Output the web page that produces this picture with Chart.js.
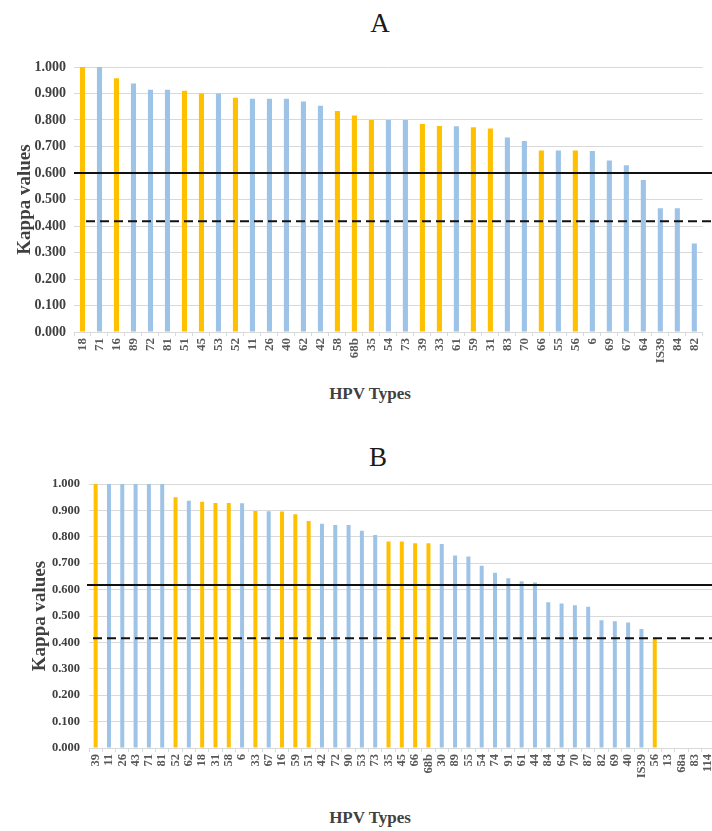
<!DOCTYPE html>
<html>
<head>
<meta charset="utf-8">
<script src="https://cdn.jsdelivr.net/npm/chart.js@4/dist/chart.umd.min.js"></script>
<style>
  html, body { margin: 0; padding: 0; background: #ffffff; }
  body { width: 712px; height: 831px; position: relative; overflow: hidden; font-family: 'Liberation Serif', 'Times New Roman', serif; }
  .wrap { position: absolute; left: 0; width: 712px; overflow: hidden; }
  .ttl { position: absolute; transform: translate(-50%, -50%); white-space: nowrap; color: #1a1a1a; font-size: 27px; }
  .xt { position: absolute; transform: translate(-50%, -50%); white-space: nowrap; color: #404040; font-size: 17px; font-weight: bold; }
</style>
</head>
<body>
<div class="ttl" style="left:380px; top:23px;">A</div>
<div class="ttl" style="left:378px; top:457px;">B</div>
<div class="xt" style="left:370px; top:394px;">HPV Types</div>
<div class="xt" style="left:370px; top:818px;">HPV Types</div>
<div class="wrap" style="top:0; height:415px;"><canvas id="chartA" width="712" height="415"></canvas></div>
<div class="wrap" style="top:415px; height:416px;"><canvas id="chartB" width="725" height="416"></canvas></div>
<script>
// ---- data ----
const typesA = ['18','71','16','89','72','81','51','45','53','52','11','26','40','62','42','58','68b','35','54','73','39','33','61','59','31','83','70','66','55','56','6','69','67','64','IS39','84','82'];
const kappaA = [1.000,1.000,0.958,0.938,0.914,0.914,0.910,0.900,0.900,0.884,0.880,0.880,0.880,0.870,0.854,0.834,0.817,0.800,0.800,0.800,0.785,0.777,0.776,0.773,0.768,0.734,0.721,0.685,0.685,0.685,0.683,0.647,0.629,0.574,0.467,0.467,0.334];

const typesB = ['39','11','26','43','71','81','52','62','18','31','58','6','33','67','16','59','51','42','72','90','53','73','35','45','66','68b','30','89','55','54','74','91','61','44','84','64','70','87','82','69','40','IS39','56','13','68a','83','114'];
const kappaB = [1,1,1,1,1,1,0.950,0.937,0.933,0.928,0.928,0.927,0.898,0.897,0.896,0.885,0.860,0.849,0.845,0.845,0.823,0.807,0.782,0.782,0.776,0.776,0.773,0.729,0.725,0.690,0.664,0.643,0.632,0.627,0.552,0.547,0.541,0.535,0.484,0.480,0.475,0.451,0.416,0,0,0,0];

// types drawn in orange
const highRiskTypes = ['16','18','31','33','35','39','45','51','52','56','58','59','66','68b'];

// threshold lines [solid, dashed]
const thresholdsA = [0.600, 0.418];
const thresholdsB = [0.617, 0.416];

const yTicks = [0,0.1,0.2,0.3,0.4,0.5,0.6,0.7,0.8,0.9,1.0];

// ---- styling ----
const ORANGE = '#FFC000';
const BLUE = '#9DC3E6';
const SERIF = "'Liberation Serif', 'Times New Roman', serif";

const thresholdPlugin = {
  id: 'thresholds',
  afterDatasetsDraw(chart, args, opts) {
    const {ctx, chartArea, scales} = chart;
    const y = scales.y;
    ctx.save();
    ctx.strokeStyle = '#111';
    ctx.lineWidth = 2;
    let py = y.getPixelForValue(opts.values[0]);
    ctx.setLineDash([]);
    ctx.beginPath();
    ctx.moveTo(chartArea.left + opts.solidStart, py);
    ctx.lineTo(chart.width, py);
    ctx.stroke();
    py = y.getPixelForValue(opts.values[1]);
    ctx.setLineDash([9, 5]);
    ctx.beginPath();
    ctx.moveTo(chartArea.left + opts.dashStart, py);
    ctx.lineTo(chart.width, py);
    ctx.stroke();
    ctx.restore();
  }
};

function makeChart(id, labels, values, thresholds, cfg) {
  return new Chart(document.getElementById(id), {
    type: 'bar',
    data: {
      labels: labels,
      datasets: [{
        data: values,
        backgroundColor: (c) => highRiskTypes.includes(labels[c.dataIndex]) ? ORANGE : BLUE,
        barPercentage: cfg.barPct,
        categoryPercentage: 1.0,
        borderWidth: 0
      }]
    },
    options: {
      responsive: false,
      animation: false,
      devicePixelRatio: 1,
      layout: { padding: { top: cfg.top, right: cfg.right, left: 0, bottom: 0 } },
      plugins: {
        legend: { display: false },
        tooltip: { enabled: false },
        thresholds: { values: thresholds, solidStart: cfg.solidStart, dashStart: cfg.dashStart }
      },
      scales: {
        x: {
          offset: true,
          grid: { display: true, drawOnChartArea: false, drawTicks: true, tickLength: 4, color: '#d9d9d9', offset: true },
          border: { display: true, color: '#d9d9d9' },
          ticks: {
            autoSkip: false, minRotation: 90, maxRotation: 90, padding: 2,
            color: '#595959',
            font: { family: SERIF, size: cfg.xFont, weight: 'bold' }
          },
          afterFit: (s) => { s.height = cfg.xHeight; }
        },
        y: {
          min: 0, max: 1,
          afterBuildTicks: (s) => { s.ticks = yTicks.map(v => ({ value: v })); },
          grid: { color: '#d9d9d9', drawTicks: false },
          border: { display: false },
          ticks: {
            padding: cfg.yPad,
            color: '#404040',
            font: { family: SERIF, size: cfg.yFont, weight: 'bold' },
            callback: (v) => Number(v).toFixed(3)
          },
          title: {
            display: true,
            text: 'Kappa values',
            color: '#404040',
            font: { family: SERIF, size: 19, weight: 'bold' },
            padding: { top: cfg.yTitlePad, bottom: 0 }
          },
          afterFit: (s) => { s.width = cfg.yWidth; }
        }
      }
    },
    plugins: [thresholdPlugin]
  });
}

makeChart('chartA', typesA, kappaA, thresholdsA, {
  barPct: 0.3, top: 67, right: 6, xHeight: 83, yWidth: 74, yPad: 8, yFont: 14, xFont: 13,
  yTitlePad: 14, solidStart: 0, dashStart: 12
});
makeChart('chartB', typesB, kappaB, thresholdsB, {
  barPct: 0.3, top: 69, right: 0, xHeight: 83, yWidth: 89, yPad: 9, yFont: 12.5, xFont: 12.5,
  yTitlePad: 29, solidStart: -2, dashStart: 4
});
</script>
</body>
</html>
